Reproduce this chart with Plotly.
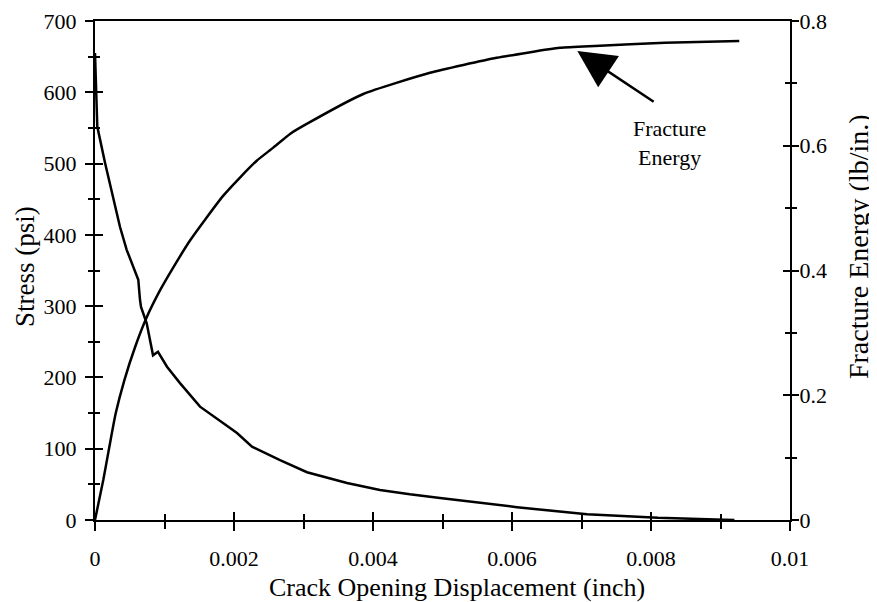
import plotly.graph_objects as go

# ---- data ----
disp_stress = [0, 0.000033, 0.000144, 0.000259, 0.00036, 0.000456, 0.000623, 0.000647,
               0.000662, 0.000744, 0.000791, 0.000835, 0.000906, 0.001036, 0.001223, 0.001511,
               0.001842, 0.002043, 0.002259, 0.002662, 0.00305, 0.003626, 0.0041, 0.00453,
               0.004964, 0.005597, 0.006072, 0.007079, 0.0081, 0.00905, 0.0092]
stress = [655, 552, 501, 453, 411, 379, 337, 309,
          299, 276, 252, 231, 236, 215, 192, 159,
          136, 122, 103, 84, 67, 52, 42, 36,
          31, 24, 18, 8, 3, 0.5, 0]

disp_energy = [0, 0.000119, 0.000206, 0.000298, 0.000422, 0.000576, 0.000744, 0.000935,
               0.001127, 0.001367, 0.001607, 0.001846, 0.002086, 0.002327, 0.002565, 0.002806,
               0.003046, 0.00386, 0.00482, 0.00578, 0.00669, 0.00719, 0.0082, 0.00927]
energy = [0, 0.064, 0.117, 0.171, 0.224, 0.277, 0.325, 0.368,
          0.405, 0.448, 0.485, 0.520, 0.549, 0.576, 0.597, 0.619,
          0.635, 0.683, 0.717, 0.741, 0.757, 0.760, 0.765, 0.768]

x_range = [0, 0.01]
stress_range = [0, 700]
energy_range = [0, 0.8]
x_ticks = [0, 0.002, 0.004, 0.006, 0.008, 0.01]
x_ticklabels = ["0", "0.002", "0.004", "0.006", "0.008", "0.01"]
stress_ticks = [0, 100, 200, 300, 400, 500, 600, 700]
energy_ticks = [0, 0.2, 0.4, 0.6, 0.8]
energy_ticklabels = ["0", "0.2", "0.4", "0.6", "0.8"]

arrow_tip = (0.00694, 0.752)
arrow_tail = (0.00806, 0.669)
label_pos = (0.00827, 0.605)

FONT = "Liberation Serif"
BLACK = "black"

fig = go.Figure()
fig.add_trace(go.Scatter(x=disp_stress, y=stress, mode="lines",
                         line=dict(color=BLACK, width=2.5), yaxis="y", showlegend=False))
fig.add_trace(go.Scatter(x=disp_energy, y=energy, mode="lines",
                         line=dict(color=BLACK, width=2.5, shape="spline", smoothing=0.5),
                         yaxis="y2", showlegend=False))

common = dict(showgrid=False, zeroline=False, tickcolor=BLACK, tickwidth=2, automargin=False)

fig.update_layout(
    width=869, height=594,
    margin=dict(l=87, r=87, t=13, b=82),
    paper_bgcolor="white", plot_bgcolor="white",
    font=dict(family=FONT, size=22, color=BLACK),
    xaxis=dict(range=x_range, tickmode="array", tickvals=x_ticks, ticktext=x_ticklabels,
               ticks="outside", ticklen=9, showline=True, linecolor=BLACK, linewidth=2,
               mirror=True, ticklabelstandoff=9,
               minor=dict(dtick=0.001, ticks="outside", ticklen=7, tickwidth=2, tickcolor=BLACK),
               **common),
    xaxis2=dict(range=x_range, overlaying="x", anchor="y", side="bottom", tickmode="array",
                tickvals=x_ticks, ticks="inside", ticklen=8, showticklabels=False,
                showline=False,
                minor=dict(dtick=0.001, ticks="inside", ticklen=6, tickwidth=2, tickcolor=BLACK),
                **common),
    yaxis=dict(range=stress_range, tickmode="array", tickvals=stress_ticks,
               ticks="outside", ticklen=8, showline=True, linecolor=BLACK, linewidth=2,
               ticklabelstandoff=4,
               minor=dict(dtick=50, ticks="outside", ticklen=5, tickwidth=2, tickcolor=BLACK),
               **common),
    yaxis3=dict(range=stress_range, overlaying="y", anchor="x", side="left", tickmode="array",
                tickvals=stress_ticks, ticks="inside", ticklen=8, showticklabels=False,
                showline=False,
                minor=dict(dtick=50, ticks="inside", ticklen=5, tickwidth=2, tickcolor=BLACK),
                **common),
    yaxis2=dict(range=energy_range, overlaying="y", anchor="x", side="right", tickmode="array",
                tickvals=energy_ticks, ticktext=energy_ticklabels,
                ticks="outside", ticklen=7, showline=True, linecolor=BLACK, linewidth=2,
                ticklabelstandoff=-4,
                minor=dict(dtick=0.1, ticks="outside", ticklen=5, tickwidth=2, tickcolor=BLACK),
                **common),
    yaxis4=dict(range=energy_range, overlaying="y", anchor="x", side="right", tickmode="array",
                tickvals=energy_ticks, ticks="inside", ticklen=7, showticklabels=False,
                showline=False,
                minor=dict(dtick=0.1, ticks="inside", ticklen=5, tickwidth=2, tickcolor=BLACK),
                **common),
)

# invisible helper traces so the overlay tick axes are drawn
fig.add_trace(go.Scatter(x=[None], y=[None], xaxis="x2", yaxis="y", showlegend=False, hoverinfo="skip"))
fig.add_trace(go.Scatter(x=[None], y=[None], xaxis="x", yaxis="y3", showlegend=False, hoverinfo="skip"))
fig.add_trace(go.Scatter(x=[None], y=[None], xaxis="x", yaxis="y4", showlegend=False, hoverinfo="skip"))

# axis titles as annotations (positioned like the reference)
fig.add_annotation(text="Crack Opening Displacement (inch)", xref="paper", yref="paper",
                   x=0.521, y=0, yshift=-67, xanchor="center", yanchor="middle",
                   showarrow=False, font=dict(family=FONT, size=26, color=BLACK))
fig.add_annotation(text="Stress (psi)", xref="paper", yref="paper",
                   x=0, xshift=-70, y=0.507, xanchor="center", yanchor="middle", textangle=-90,
                   showarrow=False, font=dict(family=FONT, size=27, color=BLACK))
fig.add_annotation(text="Fracture Energy (lb/in.)", xref="paper", yref="paper",
                   x=1, xshift=68, y=0.547, xanchor="center", yanchor="middle", textangle=-90,
                   showarrow=False, font=dict(family=FONT, size=28, color=BLACK))

# arrow and its label
fig.add_annotation(x=arrow_tip[0], y=arrow_tip[1], xref="x", yref="y2",
                   ax=arrow_tail[0], ay=arrow_tail[1], axref="x", ayref="y2",
                   text="", showarrow=True, arrowhead=2, arrowsize=3, arrowwidth=2.5,
                   arrowcolor=BLACK)
fig.add_annotation(x=label_pos[0], y=label_pos[1], xref="x", yref="y2",
                   text="Fracture<br>Energy", showarrow=False,
                   font=dict(family=FONT, size=22, color=BLACK))

fig.write_html("out.html")
